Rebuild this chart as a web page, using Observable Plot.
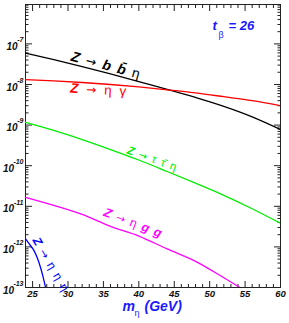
<!DOCTYPE html>
<html><head><meta charset="utf-8">
<script src="https://cdn.jsdelivr.net/npm/d3@7"></script>
<script src="https://cdn.jsdelivr.net/npm/@observablehq/plot@0.6"></script>
<style>body{margin:0;background:#fff;} #chart{width:289px;height:323px;}</style>
</head><body><div id="chart"></div>
<script>
// masses m_eta (GeV)
const mEta = [24, 28, 32, 36, 40, 44, 48, 52, 56, 60];
const mEtaGG = [24, 28, 32, 36, 40, 44, 48, 52, 56];
const mEtaEtaEta = [24, 24.5, 25.2, 25.7, 26.1, 26.5, 26.8, 27.1];
// branching ratios
const brBBEta = [5.9e-8, 4.07e-8, 2.75e-8, 1.82e-8, 1.17e-8, 7.6e-9, 4.8e-9, 2.9e-9, 1.6e-9, 7.8e-10];
const brEtaGamma = [1.32e-8, 1.23e-8, 1.12e-8, 1.0e-8, 8.7e-9, 7.4e-9, 6.2e-9, 5.0e-9, 4.0e-9, 3.0e-9];
const brTauTauEta = [1.17e-9, 7.4e-10, 4.4e-10, 2.5e-10, 1.38e-10, 7.2e-11, 3.7e-11, 1.86e-11, 8.7e-12, 3.8e-12];
const brEtaGG = [1.66e-11, 1.05e-11, 6.3e-12, 3.2e-12, 1.85e-12, 8.9e-13, 4.4e-13, 1.74e-13, 6.5e-14];
const brEtaEtaEta = [1.58e-12, 1.2e-12, 8.1e-13, 5.2e-13, 3.2e-13, 1.78e-13, 1.05e-13, 6.3e-14];
// ticks
const xMajor = [25, 30, 35, 40, 45, 50, 55, 60];
const xLabels = ["25", "30", "35", "40", "45", "50", "55", "60"];
const yExponents = [-13, -12, -11, -10, -9, -8, -7];
// curve labels
const labelTexts = ["Z → b b̄ η", "Z → η γ", "Z → τ τ̄ η", "Z → η g g", "Z → η η η"];
const labelM = [35.4, 34.4, 41.9, 39.2, 27.6];
const labelBR = [2.95e-8, 7.4e-9, 1.48e-10, 3.9e-12, 3.6e-13];

const xMinor = d3.range(24, 61, 1).filter(d => !xMajor.includes(d));
const yMajor = yExponents.map(e => 10 ** e);
const yMinor = [];
for (const e of yExponents) for (let k = 2; k <= 9; k++) yMinor.push(k * 10 ** e);

const toRows = (ms, vs) => ms.map((m, i) => ({m, v: vs[i]}));
const series = [
  {rows: toRows(mEta, brBBEta), color: "#000000"},
  {rows: toRows(mEta, brEtaGamma), color: "#ff0000"},
  {rows: toRows(mEta, brTauTauEta), color: "#00ee00"},
  {rows: toRows(mEtaGG, brEtaGG), color: "#ff00ff"},
  {rows: toRows(mEtaEtaEta, brEtaEtaEta), color: "#0000ff"}
];
const labelStyle = [
  {rotate: 15, color: "#000000", size: 14, spacing: 1.4},
  {rotate: 3, color: "#ff0000", size: 13.5, spacing: 2},
  {rotate: 20, color: "#00ee00", size: 11.5, spacing: 1},
  {rotate: 21, color: "#ff00ff", size: 12.5, spacing: 1},
  {rotate: 60, color: "#0000ff", size: 12, spacing: 1.3}
];

const font = "'Liberation Sans', Arial, Helvetica, sans-serif";
const ax = {tickFormat: () => "", label: null, stroke: "#222"};
const marks = [
  Plot.frame({stroke: "#222"}),
  Plot.axisX({...ax, anchor: "bottom", ticks: xMajor, tickSize: -6}),
  Plot.axisX({...ax, anchor: "bottom", ticks: xMinor, tickSize: -3}),
  Plot.axisX({...ax, anchor: "top", ticks: xMajor, tickSize: -6}),
  Plot.axisX({...ax, anchor: "top", ticks: xMinor, tickSize: -3}),
  Plot.axisY({...ax, anchor: "left", ticks: yMajor, tickSize: -7}),
  Plot.axisY({...ax, anchor: "left", ticks: yMinor, tickSize: -3.5}),
  Plot.axisY({...ax, anchor: "right", ticks: yMajor, tickSize: -7}),
  Plot.axisY({...ax, anchor: "right", ticks: yMinor, tickSize: -3.5}),
  // x tick labels
  Plot.text(xMajor, {x: d => d, text: (d, i) => xLabels[i], frameAnchor: "bottom", dy: 9, fontWeight: "bold", fontStyle: "italic", fontSize: 9.5, fill: "#111"}),
  // y tick labels: "10" + exponent
  Plot.text(yExponents.filter(e => e > -10), {y: e => 10 ** e, text: () => "10", frameAnchor: "left", textAnchor: "end", dx: -8, dy: 3, fontWeight: "bold", fontStyle: "italic", fontSize: 10, fill: "#111"}),
  Plot.text(yExponents.filter(e => e <= -10), {y: e => 10 ** e, text: () => "10", frameAnchor: "left", textAnchor: "end", dx: -11.5, dy: 3, fontWeight: "bold", fontStyle: "italic", fontSize: 10, fill: "#111"}),
  Plot.text(yExponents, {y: e => 10 ** e, text: e => String(e), frameAnchor: "left", textAnchor: "end", dx: -2, dy: -4, fontWeight: "bold", fontStyle: "italic", fontSize: 7, fill: "#111"}),
  // curves
  ...series.map(s => Plot.line(s.rows, {x: "m", y: "v", stroke: s.color, strokeWidth: 1.3, curve: "monotone-x", clip: true})),
  // curve labels
  ...labelTexts.map((t, i) => Plot.text([t], {x: () => labelM[i], y: () => labelBR[i], text: d => d, rotate: labelStyle[i].rotate, fill: labelStyle[i].color, fontSize: labelStyle[i].size, fontWeight: "bold", fontStyle: "italic", textAnchor: "middle", lineAnchor: "middle"})),
  // t_beta = 26
  Plot.text(["t"], {text: d => d, frameAnchor: "top-left", dx: 187, dy: 25, fill: "#1a1aff", fontSize: 13, fontWeight: "bold", fontStyle: "italic", textAnchor: "start", lineAnchor: "bottom"}),
  Plot.text(["β"], {text: d => d, frameAnchor: "top-left", dx: 193, dy: 33, fill: "#1a1aff", fontSize: 9, textAnchor: "start", lineAnchor: "bottom"}),
  Plot.text(["= 26"], {text: d => d, frameAnchor: "top-left", dx: 203, dy: 25, fill: "#1a1aff", fontSize: 13, fontWeight: "bold", fontStyle: "italic", textAnchor: "start", lineAnchor: "bottom"}),
  // x axis title m_eta (GeV)
  Plot.text(["m"], {text: d => d, frameAnchor: "bottom-left", dx: 97, dy: 23, fill: "#1a1aff", fontSize: 14, fontWeight: "bold", fontStyle: "italic", textAnchor: "start", lineAnchor: "bottom"}),
  Plot.text(["η"], {text: d => d, frameAnchor: "bottom-left", dx: 109, dy: 28, fill: "#1a1aff", fontSize: 9, textAnchor: "start", lineAnchor: "bottom"}),
  Plot.text(["(GeV)"], {text: d => d, frameAnchor: "bottom-left", dx: 119, dy: 23, fill: "#1a1aff", fontSize: 14, fontWeight: "bold", fontStyle: "italic", textAnchor: "start", lineAnchor: "bottom"})
];

const chart = Plot.plot({
  width: 289, height: 323,
  marginLeft: 25, marginRight: 9, marginTop: 4, marginBottom: 36,
  style: {fontFamily: font, background: "#fff", overflow: "visible"},
  x: {domain: [24, 60]},
  y: {type: "log", domain: [1e-13, 10 ** -6.03]},
  marks
});
// Greek letters and arrow in curve labels drawn upright and normal weight (as in original)
d3.select(chart).selectAll("text").each(function () {
  const t = this.textContent;
  if (!t.startsWith("Z →")) return;
  const i = labelTexts.indexOf(t);
  const el = d3.select(this);
  if (i >= 0) el.attr("letter-spacing", labelStyle[i].spacing);
  el.text(null);
  for (const ch of t.match(/.\u0304?/gu)) {
    const greek = /[ηγτ]/.test(ch);
    const arrow = ch === "→";
    const ts = el.append("tspan").text(ch);
    if (greek || arrow) ts.attr("font-weight", "normal").attr("font-style", "normal");
    if (arrow) ts.attr("font-family", "'DejaVu Sans', sans-serif").attr("font-size", "0.9em");
  }
});
document.getElementById("chart").append(chart);
</script>
</body></html>
